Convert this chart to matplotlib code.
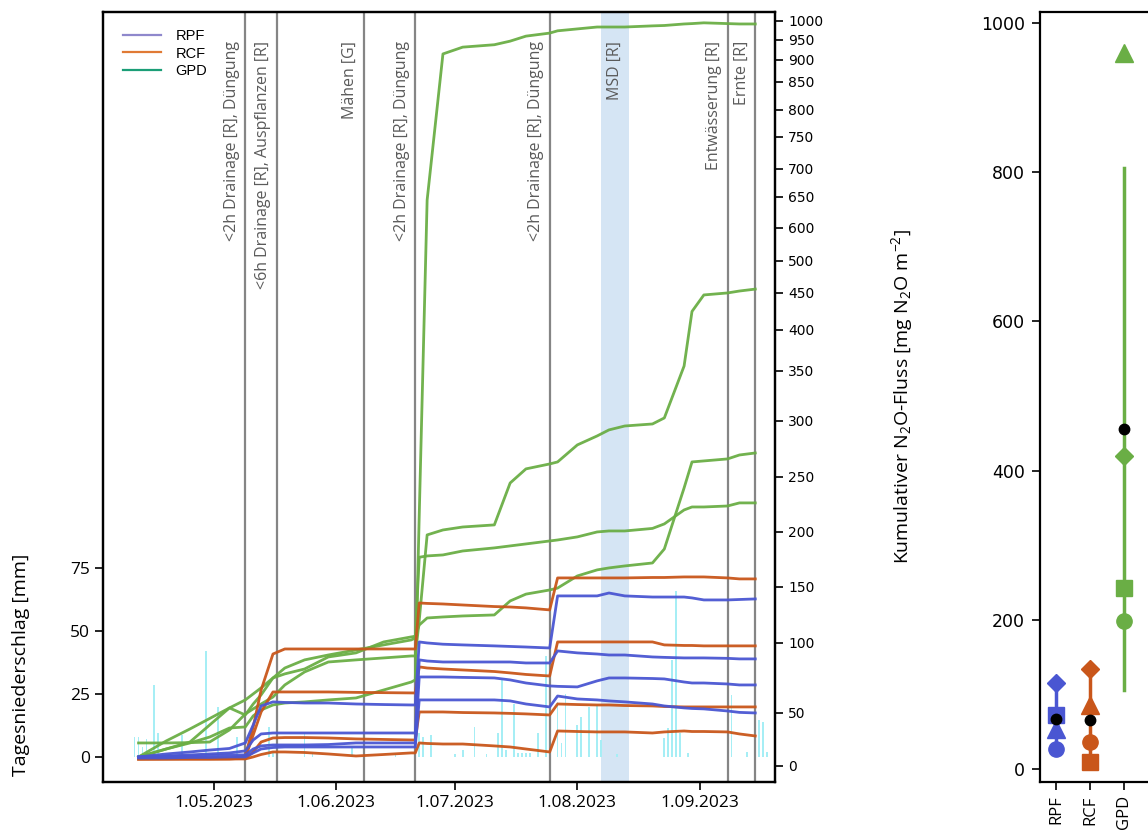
import numpy as np
import pandas as pd
import matplotlib
matplotlib.use("Agg")
import matplotlib.pyplot as plt
from matplotlib.lines import Line2D
from matplotlib.ticker import FuncFormatter

plt.rcParams["font.family"] = ["Open Sans", "DejaVu Sans"]
plt.rcParams["mathtext.default"] = "regular"

# flux campaign dates (cumulative N2O per plot)
dates = pd.to_datetime([
    "2023-04-12", "2023-04-19", "2023-04-25", "2023-04-30", "2023-05-05",
    "2023-05-09", "2023-05-11", "2023-05-13", "2023-05-16", "2023-05-19",
    "2023-05-24", "2023-05-30", "2023-06-06", "2023-06-13", "2023-06-20",
    "2023-06-21", "2023-06-22", "2023-06-24", "2023-06-28", "2023-07-03",
    "2023-07-11", "2023-07-15", "2023-07-19", "2023-07-25", "2023-07-27",
    "2023-08-01", "2023-08-06", "2023-08-09", "2023-08-13", "2023-08-20",
    "2023-08-23", "2023-08-28", "2023-08-30", "2023-09-02", "2023-09-08",
    "2023-09-11", "2023-09-15"])

rpf_1 = [8.5, 11.3, 13.2, 15, 16.5, 21.7, 38.7, 55, 57.9, 57.5, 57.1, 57.1, 56.4, 56, 55.7, 55.7,
         100.9, 100, 99.1, 98.6, 97.9, 97.5, 97.1, 96.4,
         142, 142, 142, 144.6, 142, 141, 141, 141, 140.2, 138.4, 138.4, 138.8, 139.3]
rpf_2 = [8.5, 9.4, 10.4, 11.3, 12.3, 14.2, 24.5, 30.2, 31.1, 31.1, 31.1, 31.1, 31.1, 31.1, 31.1, 31.1,
         87.9, 87.1, 86.4, 86.4, 86.4, 86.4, 85.7, 85.7,
         94.3, 92.9, 92.1, 91.4, 91.4, 90, 89.7, 89.3, 89.3, 89.3, 89, 88.6, 88.6]
rpf_3 = [8.5, 9, 9.4, 9.9, 10.4, 10.4, 16, 18.9, 19.8, 19.8, 19.8, 20.2, 21.7, 21.7, 21.7, 21.7,
         75.7, 75.7, 75.7, 75.4, 75, 73.6, 71.4, 69.3,
         69, 68.6, 72.9, 75, 75, 74.6, 74.3, 72.1, 71.4, 71.4, 70.7, 70, 70]
rpf_4 = [7.5, 7.5, 8, 8, 8.5, 8.5, 12.3, 16, 17.4, 17.9, 17.9, 17.9, 17.9, 17.9, 17.9, 17.9,
         59.3, 59.3, 59.3, 59.3, 59.3, 58.6, 56.4, 54.3,
         62.1, 60, 59.3, 58.6, 57.9, 56.4, 55, 53.6, 53.2, 52.9, 51.4, 50.4, 50]

rcf_1 = [6.6, 6.8, 7, 7.2, 7.5, 9.4, 36.8, 66.4, 92.1, 95.7, 95.7, 95.7, 95.7, 95.7, 95.7, 95.7,
         135.7, 135.3, 134.8, 133.9, 132.5, 132.1, 131.3, 129.5,
         158.2, 158.2, 158.2, 158.2, 158.2, 158.6, 158.6, 159.1, 159.1, 159.1, 158.2, 157.3, 157.3]
rcf_2 = [6.6, 6.6, 6.6, 6.6, 6.6, 7.5, 29.2, 50.7, 65, 65, 65, 65, 64.7, 64.5, 64.3, 64.3,
         82.9, 82.1, 81.4, 80.7, 79.6, 78.6, 77.5, 76.4,
         100.9, 100.9, 100.9, 100.9, 100.9, 100.9, 98.6, 98.2, 98.2, 97.9, 97.9, 97.9, 97.9]
rcf_3 = [6.6, 6.6, 6.6, 6.6, 6.8, 7, 13.2, 22.6, 26.4, 26.8, 26.8, 26.4, 25.5, 25, 24.5, 24.5,
         50.7, 50.7, 50.7, 50.3, 50, 49.6, 49.1, 48.1,
         56.4, 56, 55.7, 55.7, 55.3, 55, 54.6, 54.3, 54.3, 54.3, 54.3, 54.3, 54.3]
rcf_4 = [6.6, 6.6, 6.6, 6.6, 6.6, 6.6, 8.5, 10.8, 13.2, 13.2, 12.7, 11.3, 9.4, 10.8, 12.3, 12.3,
         21.7, 21.2, 20.7, 20.7, 18.9, 17.9, 16, 13.2,
         33, 32.5, 32.1, 32.1, 32.1, 31.1, 32.1, 33, 32.5, 32.5, 32.1, 30.2, 28.3]

gpd_1 = [8.5, 16, 21.7, 27.3, 35.8, 36.8, 47.2, 52.1, 55.7, 57.1, 57.9, 59.3, 60.7, 66.4, 72.1, 73.6,
         215, 645, 915, 932, 938, 947, 960, 968,
         974, 979, 984, 984, 984, 987, 988, 992, 993, 995, 993, 992, 992]
gpd_2 = [21.7, 21.7, 22, 22.6, 34, 49, 52.9, 56.4, 61.4, 70, 79.3, 86.4, 87.9, 89.3, 90.7, 90.7,
         120, 197.3, 201.8, 204.5, 206.4, 244.5, 257.2, 261.6,
         263.4, 278.6, 286.6, 292, 295.5, 297.3, 303, 356, 425, 447.3, 450, 453, 456]
gpd_3 = [8.5, 16, 22.6, 38.7, 53.6, 48.1, 56.4, 62.9, 75, 77.9, 81.4, 90, 92.9, 100.9, 105.4, 106,
         116, 122.3, 123.2, 124.1, 125, 137.5, 143.6, 147.3,
         149, 160, 165.5, 167.3, 169.1, 171.8, 184.5, 240, 263.4, 264.3, 266.1, 269.6, 271.4]
gpd_4 = [8.5, 23.6, 34.9, 44.8, 53.6, 59.3, 63.6, 67.9, 75, 82.1, 87.9, 91.4, 95, 98.6, 102.7, 104.5,
         177, 178.2, 179.1, 182.7, 185.5, 187.3, 189.1, 191.8,
         192.7, 195.5, 200, 200.9, 200.9, 203.2, 207.3, 220, 222.7, 222.7, 223.6, 226.4, 226.4]

# daily precipitation [mm]
rain_dates = pd.to_datetime([
    "2023-04-11", "2023-04-12", "2023-04-13", "2023-04-14", "2023-04-16", "2023-04-17",
    "2023-04-23", "2023-04-29", "2023-05-02", "2023-05-07", "2023-05-09", "2023-05-15",
    "2023-05-16", "2023-05-24", "2023-05-26", "2023-06-05", "2023-06-16", "2023-06-21",
    "2023-06-22", "2023-06-23", "2023-06-25", "2023-07-01", "2023-07-03", "2023-07-06",
    "2023-07-09", "2023-07-12", "2023-07-13", "2023-07-14", "2023-07-16", "2023-07-17",
    "2023-07-18", "2023-07-19", "2023-07-20", "2023-07-22", "2023-07-24", "2023-07-27",
    "2023-07-28", "2023-07-29", "2023-08-01", "2023-08-02", "2023-08-04", "2023-08-06",
    "2023-08-07", "2023-08-11", "2023-08-23", "2023-08-24", "2023-08-25", "2023-08-26",
    "2023-08-27", "2023-08-29", "2023-09-09", "2023-09-13", "2023-09-16", "2023-09-17",
    "2023-09-18"])
rain_mm = [8, 8, 4, 7, 28.5, 9.5,
           8.7, 42, 20, 8, 31, 12,
           1.5, 9.5, 1.5, 3.6, 1, 13.5,
           9.5, 8, 8.7, 1, 2.8, 12,
           1, 9.5, 30.5, 2.8, 21, 1.6,
           1.6, 1.6, 1.6, 9.5, 40, 22,
           5.6, 25, 12.7, 16, 20, 20.6,
           6.7, 1, 7.5, 11.5, 38.5, 66,
           9.5, 1.6, 24.6, 2, 14.7, 14,
           2]

events = ["2023-05-09", "2023-05-17", "2023-06-08", "2023-06-21",
          "2023-07-25", "2023-09-08", "2023-09-15"]
event_labels = ["<2h Drainage [R], Düngung", "<6h Drainage [R], Auspflanzen [R]",
                "Mähen [G]", "<2h Drainage [R], Düngung", "<2h Drainage [R], Düngung",
                "Entwässerung [R]", "Ernte [R]"]
msd_period = ["2023-08-07", "2023-08-14"]

# cumulative totals per replicate (circle, square, triangle, diamond)
groups = ["RPF", "RCF", "GPD"]
rpf_total = [27, 72, 54, 115]
rcf_total = [36, 9, 86, 134]
gpd_total = [198, 243, 960, 420]

line_colors = {"RPF": "#4a56d2", "RCF": "#c9561a", "GPD": "#6aae45"}
legend_colors = {"RPF": "#8f88cc", "RCF": "#e07a35", "GPD": "#1b9e77"}

# knots of the piecewise axis used for the cumulative flux
axis_vals = np.array([0, 50, 100, 150, 200, 250, 300, 350, 400, 450, 500,
                      600, 650, 700, 750, 800, 850, 900, 950, 1000], float)
axis_pos = np.array([0, 53, 123, 179, 234, 289, 345, 395, 436, 473, 505,
                     538, 569, 597, 629, 656, 684, 706, 726, 745], float)


def _fwd(v):
    v = np.asarray(v, float)
    lo = axis_pos[0] + (v - axis_vals[0]) * (axis_pos[1] - axis_pos[0]) / (axis_vals[1] - axis_vals[0])
    hi = axis_pos[-1] + (v - axis_vals[-1]) * (axis_pos[-1] - axis_pos[-2]) / (axis_vals[-1] - axis_vals[-2])
    mid = np.interp(v, axis_vals, axis_pos)
    return np.where(v < axis_vals[0], lo, np.where(v > axis_vals[-1], hi, mid))


def _inv(p):
    p = np.asarray(p, float)
    lo = axis_vals[0] + (p - axis_pos[0]) * (axis_vals[1] - axis_vals[0]) / (axis_pos[1] - axis_pos[0])
    hi = axis_vals[-1] + (p - axis_pos[-1]) * (axis_vals[-1] - axis_vals[-2]) / (axis_pos[-1] - axis_pos[-2])
    mid = np.interp(p, axis_pos, axis_vals)
    return np.where(p < axis_pos[0], lo, np.where(p > axis_pos[-1], hi, mid))


fig = plt.figure(figsize=(11.48, 8.34), dpi=100)
ax = fig.add_axes([0.0897, 0.0624, 0.5854, 0.9233])

# precipitation and management events on the left axis
ax.axvspan(pd.Timestamp(msd_period[0]), pd.Timestamp(msd_period[1]),
           color="#d5e5f4", zorder=0, lw=0)
ax.bar(rain_dates, rain_mm, width=0.45, color="#a6eef5", zorder=1)
for d, lab in zip(events, event_labels):
    ax.axvline(pd.Timestamp(d), color="#858585", lw=1.6, zorder=2)
    ax.annotate(lab, xy=(pd.Timestamp(d), 1), xycoords=("data", "axes fraction"),
                xytext=(-4, -21), textcoords="offset points", rotation=90,
                ha="right", va="top", fontsize=11.5, color="#5a5a5a")
ax.annotate("MSD [R]", xy=(pd.Timestamp(msd_period[1]), 1),
            xycoords=("data", "axes fraction"), xytext=(-4, -21),
            textcoords="offset points", rotation=90, ha="right", va="top",
            fontsize=11.5, color="#5a5a5a")

ax.set_ylim(-9.9, 295.6)
ax.set_yticks([0, 25, 50, 75])
ax.set_xlim(pd.Timestamp("2023-04-03"), pd.Timestamp("2023-09-20"))
ax.set_xticks(pd.to_datetime(["2023-05-01", "2023-06-01", "2023-07-01",
                              "2023-08-01", "2023-09-01"]))
ax.xaxis.set_major_formatter(FuncFormatter(
    lambda x, pos: (lambda t: f"{t.day}.{t.month:02d}.{t.year}")(
        matplotlib.dates.num2date(x))))
ax.set_ylabel("Tagesniederschlag [mm]", fontsize=14)
ax.yaxis.set_label_coords(-0.108, 0.152)
ax.tick_params(axis="both", direction="out", length=6, width=1.2, labelsize=12.5)
for s in ax.spines.values():
    s.set_linewidth(1.6)

# cumulative fluxes on the right axis
ax2 = ax.twinx()
ax2.set_yscale("function", functions=(_fwd, _inv))
series = {"RPF": [rpf_1, rpf_2, rpf_3, rpf_4],
          "RCF": [rcf_1, rcf_2, rcf_3, rcf_4],
          "GPD": [gpd_1, gpd_2, gpd_3, gpd_4]}
for g in ["GPD", "RCF", "RPF"]:
    for vals in series[g]:
        ax2.plot(dates, vals, color=line_colors[g], lw=2.0, alpha=0.95,
                 solid_joinstyle="round")
ax2.set_ylim(-15.1, 1023.7)
ax2.set_yticks(axis_vals)
ax2.set_yticklabels([f"{int(v)}" for v in axis_vals], family="DejaVu Sans")
ax2.tick_params(axis="y", direction="out", length=6, width=1.2, labelsize=10)
for s in ax2.spines.values():
    s.set_linewidth(1.6)

handles = [Line2D([], [], color=legend_colors[g], lw=1.6) for g in groups]
ax.legend(handles, groups, loc="upper left", bbox_to_anchor=(0.01, 0.995),
          frameon=False, handlelength=2.6, handletextpad=1.0, labelspacing=0.25,
          prop={"family": "Liberation Sans", "size": 10.5})

# per-replicate totals with mean and standard deviation
ax3 = fig.add_axes([0.906, 0.0624, 0.1176, 0.9233])
markers = ["o", "s", "^", "D"]
msizes = [11, 11, 13, 9.5]
totals = {"RPF": rpf_total, "RCF": rcf_total, "GPD": gpd_total}
for i, g in enumerate(groups):
    vals = np.array(totals[g], float)
    m = vals.mean()
    sd = vals.std(ddof=1)
    ax3.plot([i, i], [m - sd, m + sd], color=line_colors[g], lw=2.5, zorder=1)
    for v, mk, ms in zip(vals, markers, msizes):
        ax3.plot(i, v, marker=mk, ms=ms, color=line_colors[g], ls="none", zorder=2)
    ax3.plot(i, m, marker="o", ms=7.5, color="black", ls="none", zorder=3)
ax3.set_xlim(-0.47, 3.5)
ax3.set_ylim(-17.4, 1014.7)
ax3.set_xticks(range(len(groups)))
ax3.set_xticklabels(groups, rotation=90, fontsize=12)
ax3.set_yticks([0, 200, 400, 600, 800, 1000])
ax3.set_yticklabels(["0", "200", "400", "600", "800", "1000"], family="DejaVu Sans")
ax3.tick_params(axis="both", direction="out", length=6, width=1.2)
ax3.tick_params(axis="y", labelsize=12.5, pad=5)
for s in ax3.spines.values():
    s.set_linewidth(1.6)
ax3.set_ylabel(r"Kumulativer N$_2$O-Fluss [mg N$_2$O m$^{-2}$]", fontsize=14)
ax3.yaxis.set_label_coords(-0.93, 0.5)

fig.savefig("out.png", dpi=100)
